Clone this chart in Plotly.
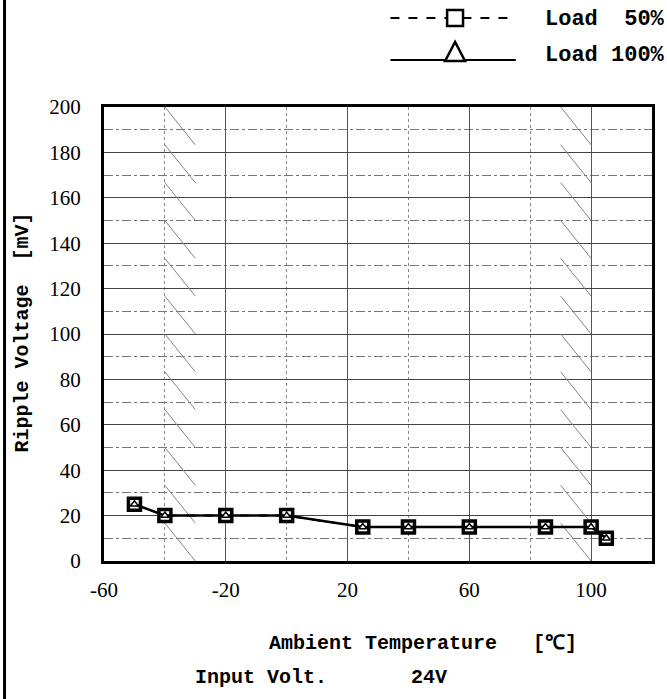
import plotly.graph_objects as go

# ---- data ----
temps = [-50, -40, -20, 0, 25, 40, 60, 85, 100, 105]
ripple_load50 = [25, 20, 20, 20, 15, 15, 15, 15, 15, 10]
ripple_load100 = [25, 20, 20, 20, 15, 15, 15, 15, 15, 10]
series_names = ["Load\u00a0\u00a050%", "Load\u00a0100%"]
x_ticks = [-60, -20, 20, 60, 100]
y_ticks = [0, 20, 40, 60, 80, 100, 120, 140, 160, 180, 200]
# derating hatch bands (start temperature of each band)
hatch_starts = [-40, 90]
hatch_width = 10
hatch_step = 200 / 12

W, H = 667, 699
L, R, T, B = 104, 12, 107, 138
PW, PH = W - L - R, H - T - B


def xp(px):
    return (px - L) / PW


def yp(py):
    return (H - B - py) / PH


TXT = "Liberation Mono"
NUM = "Liberation Serif"

fig = go.Figure()

# hatch lines
hx, hy = [], []
for xs in hatch_starts:
    for k in range(12):
        y0 = 200 - k * hatch_step
        hx += [xs, xs + hatch_width, None]
        hy += [y0, y0 - hatch_step, None]
fig.add_trace(go.Scatter(x=hx, y=hy, mode="lines",
                         line=dict(color="#858585", width=1),
                         hoverinfo="skip", showlegend=False))

fig.add_trace(go.Scatter(x=temps, y=ripple_load50, mode="lines+markers",
                         name=series_names[0],
                         line=dict(color="black", width=2, dash="dash"),
                         marker=dict(symbol="square", size=12, color="white",
                                     line=dict(color="black", width=3.5)),
                         showlegend=False))
fig.add_trace(go.Scatter(x=temps, y=ripple_load100, mode="lines+markers",
                         name=series_names[1],
                         line=dict(color="black", width=2.5),
                         marker=dict(symbol="triangle-up", size=7, color="white",
                                     line=dict(color="black", width=1.5)),
                         showlegend=False))

axis_common = dict(showline=True, linecolor="black", linewidth=3, mirror=True,
                   ticks="", zeroline=False,
                   tickfont=dict(family=NUM, size=21, color="black"))

fig.update_xaxes(range=[-60, 120], tickmode="array", tickvals=x_ticks,
                 ticktext=[str(v) for v in x_ticks],
                 showgrid=True, gridcolor="#555555", gridwidth=1,
                 minor=dict(tickmode="array", tickvals=[-40, 0, 40, 80],
                            showgrid=True, gridcolor="#888888", griddash="dot", gridwidth=1),
                 ticklabelstandoff=8, **axis_common)
fig.update_yaxes(range=[0, 200], tickmode="array", tickvals=y_ticks,
                 ticktext=[str(v) for v in y_ticks],
                 showgrid=True, gridcolor="#444444", gridwidth=1,
                 minor=dict(dtick=10, showgrid=True, gridcolor="#777777",
                            griddash="dashdot", gridwidth=1),
                 ticklabelstandoff=16, **axis_common)

shapes = []
# page left border
shapes.append(dict(type="line", xref="paper", yref="paper",
                   x0=xp(4), x1=xp(4), y0=yp(0), y1=yp(H),
                   line=dict(color="black", width=3)))

# legend
leg_lines = [18, 60]
leg_text = [20, 55]
lx0, lx1, lmid = 392, 518, 457
shapes.append(dict(type="line", xref="paper", yref="paper",
                   x0=xp(lx0), x1=xp(lx1), y0=yp(leg_lines[0]), y1=yp(leg_lines[0]),
                   line=dict(color="black", width=2, dash="dash")))
shapes.append(dict(type="line", xref="paper", yref="paper",
                   x0=xp(lx0), x1=xp(lx1), y0=yp(leg_lines[1]), y1=yp(leg_lines[1]),
                   line=dict(color="black", width=2)))
s = 8
shapes.append(dict(type="rect", xref="paper", yref="paper",
                   x0=xp(lmid - s), x1=xp(lmid + s),
                   y0=yp(leg_lines[0] + s), y1=yp(leg_lines[0] - s),
                   fillcolor="white", line=dict(color="black", width=2.5)))
ty = leg_lines[1]
path = "M {} {} L {} {} L {} {} Z".format(
    xp(lmid - 10), yp(ty + 1), xp(lmid + 10), yp(ty + 1), xp(lmid), yp(ty - 18))
shapes.append(dict(type="path", xref="paper", yref="paper", path=path,
                   fillcolor="white", line=dict(color="black", width=2.5)))

annotations = []
for i, nm in enumerate(series_names):
    annotations.append(dict(xref="paper", yref="paper", x=xp(545), y=yp(leg_text[i]),
                            text="<b>" + nm + "</b>", showarrow=False, xanchor="left",
                            yanchor="middle",
                            font=dict(family=TXT, size=22, color="black")))

annotations.append(dict(xref="paper", yref="paper", x=xp(268), y=yp(643),
                        text="<b>Ambient Temperature\u00a0\u00a0\u00a0[℃]</b>", showarrow=False,
                        xanchor="left", yanchor="middle",
                        font=dict(family=TXT, size=20, color="black")))
annotations.append(dict(xref="paper", yref="paper", x=xp(193), y=yp(677),
                        text="<b>Input Volt." + "\u00a0" * 7 + "24V</b>", showarrow=False,
                        xanchor="left", yanchor="middle",
                        font=dict(family=TXT, size=20, color="black")))
annotations.append(dict(xref="paper", yref="paper", x=xp(22), y=yp(332),
                        text="<b>Ripple Voltage\u00a0\u00a0[mV]</b>", showarrow=False,
                        textangle=-90, xanchor="center", yanchor="middle",
                        font=dict(family=TXT, size=20, color="black")))

fig.update_layout(width=W, height=H, autosize=False,
                  margin=dict(l=L, r=R, t=T, b=B),
                  paper_bgcolor="white", plot_bgcolor="white",
                  shapes=shapes, annotations=annotations, showlegend=False)

fig.write_html("out.html")
